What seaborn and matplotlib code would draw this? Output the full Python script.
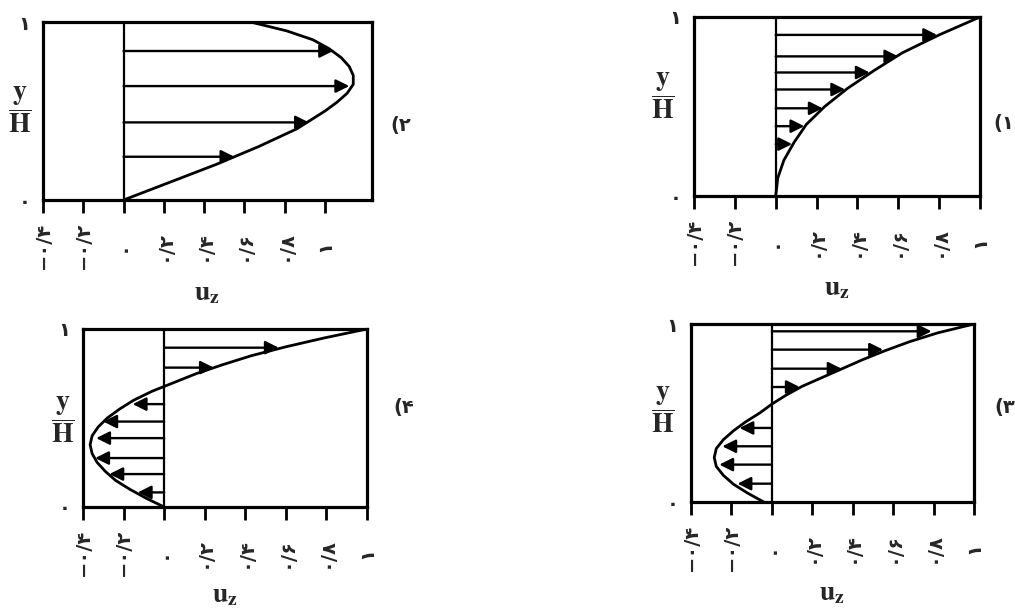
import numpy as np
import pandas as pd
import matplotlib
matplotlib.use("Agg")
import matplotlib.pyplot as plt
import seaborn as sns

sns.set_style("white")
plt.rcParams["font.family"] = ["DejaVu Sans"]
plt.rcParams["mathtext.fontset"] = "stix"

# ---------------- data ----------------
xticks = [-0.4, -0.2, 0.0, 0.2, 0.4, 0.6, 0.8, 1.0]
xtick_labels = ["−۰/۴", "−۰/۲", "۰", "۰/۲", "۰/۴", "۰/۶", "۰/۸", "۱"]
yticks = [0.0, 1.0]
ytick_labels = ["۰", "۱"]

# panel (۱)
p1_y = [0.0, 0.1, 0.2, 0.3, 0.4, 0.5, 0.6, 0.7, 0.8, 0.9, 1.0]
p1_u = [0.0, 0.01, 0.04, 0.09, 0.15, 0.24, 0.35, 0.48, 0.62, 0.80, 1.0]
p1_arrow_y = [0.29, 0.39, 0.49, 0.595, 0.69, 0.78, 0.90]
p1_arrow_u = [0.08, 0.14, 0.23, 0.34, 0.46, 0.60, 0.79]

# panel (۲)
p2_y = [0.0, 0.1, 0.2, 0.3, 0.4, 0.5, 0.55, 0.6, 0.65, 0.7, 0.75, 0.8, 0.85, 0.9, 0.95, 1.0]
p2_u = [0.0, 0.23, 0.46, 0.67, 0.86, 1.00, 1.06, 1.11, 1.14, 1.14, 1.12, 1.08, 1.02, 0.94, 0.81, 0.63]
p2_arrow_y = [0.243, 0.436, 0.64, 0.837]
p2_arrow_u = [0.55, 0.92, 1.12, 1.04]

# panel (۳)
p3_y = [0.0, 0.05, 0.1, 0.15, 0.2, 0.25, 0.3, 0.35, 0.4, 0.45, 0.5,
        0.55, 0.6, 0.65, 0.7, 0.75, 0.8, 0.85, 0.9, 0.95, 1.0]
p3_u = [-0.04, -0.12, -0.19, -0.24, -0.275, -0.285, -0.275, -0.24, -0.19, -0.13, -0.06,
        0.0, 0.07, 0.15, 0.25, 0.35, 0.45, 0.56, 0.68, 0.82, 1.0]
p3_arrow_y = [0.103, 0.21, 0.313, 0.416, 0.646, 0.749, 0.856, 0.959]
p3_arrow_u = [-0.17, -0.26, -0.245, -0.16, 0.138, 0.345, 0.55, 0.79]

# panel (۴)
p4_y = [0.0, 0.05, 0.1, 0.15, 0.2, 0.25, 0.3, 0.35, 0.4, 0.45, 0.5,
        0.55, 0.6, 0.65, 0.7, 0.75, 0.8, 0.85, 0.9, 0.95, 1.0]
p4_u = [0.0, -0.09, -0.17, -0.24, -0.29, -0.33, -0.355, -0.365, -0.355, -0.325, -0.28,
        -0.22, -0.15, -0.06, 0.05, 0.16, 0.29, 0.43, 0.60, 0.79, 1.0]
p4_arrow_y = [0.082, 0.185, 0.275, 0.387, 0.48, 0.578, 0.783, 0.895]
p4_arrow_u = [-0.13, -0.27, -0.34, -0.335, -0.30, -0.155, 0.245, 0.565]

panel_titles = ["(۱", "(۲", "(۳", "(۴"]

# ---------------- layout ----------------
W, H = 1015, 611
fig = plt.figure(figsize=(W / 100, H / 100), dpi=100)
fig.patch.set_facecolor("white")


def rect(l, t, r, b):
    return [l / W, 1 - b / H, (r - l) / W, (b - t) / H]


panels = [
    # (rect, xlim, y, u, arrow_y, arrow_u, title, title_pos, ylab_x, ylab_y, xlab_y)
    (rect(694, 17, 980, 196), (-0.4, 1.0), p1_y, p1_u, p1_arrow_y, p1_arrow_u,
     panel_titles[0], (993, 123), -0.108, 0.56, -0.51),
    (rect(43, 22, 372, 200), (-0.4, 1.233), p2_y, p2_u, p2_arrow_y, p2_arrow_u,
     panel_titles[1], (390, 125), -0.07, 0.51, -0.52),
    (rect(691, 324, 974, 502), (-0.4, 1.0), p3_y, p3_u, p3_arrow_y, p3_arrow_u,
     panel_titles[2], (994, 408), -0.099, 0.52, -0.51),
    (rect(83, 329, 367, 507), (-0.4, 1.0), p4_y, p4_u, p4_arrow_y, p4_arrow_u,
     panel_titles[3], (393, 408), -0.07, 0.49, -0.49),
]

tick_font = dict(family=["DejaVu Sans"], weight="bold", size=14)

for (rc, xlim, yy, uu, ay, au, title, tpos, ylx, yly, xly) in panels:
    ax = fig.add_axes(rc)
    df = pd.DataFrame({"u": uu, "y": yy})
    sns.lineplot(data=df, x="u", y="y", sort=False, estimator=None,
                 color="black", lw=2.0, ax=ax)
    ax.axvline(0, color="black", lw=1.6)
    for y0, u0 in zip(ay, au):
        ax.annotate("", xy=(u0, y0), xytext=(0, y0),
                    arrowprops=dict(arrowstyle="-|>", color="black", lw=1.7,
                                    mutation_scale=20, shrinkA=0, shrinkB=0))
    ax.set_xlim(*xlim)
    ax.set_ylim(0, 1)
    for sp in ax.spines.values():
        sp.set_visible(True)
        sp.set_linewidth(2.3)
        sp.set_color("black")
    ax.set_xticks(xticks)
    ax.set_xticklabels(xtick_labels, rotation=90, va="center", ha="center",
                       fontdict=tick_font)
    ax.tick_params(axis="x", bottom=True, direction="out", length=9,
                   width=2, pad=24, color="black")
    ax.set_yticks(yticks)
    ax.set_yticklabels(ytick_labels, fontdict=tick_font)
    ax.tick_params(axis="y", left=True, length=0, pad=9)
    ax.set_ylabel(r"$\dfrac{\mathbf{y}}{\mathbf{H}}$", rotation=0, fontsize=20,
                  va="center", ha="center")
    ax.yaxis.set_label_coords(ylx, yly)
    ax.set_xlabel(r"$\mathbf{u}_{\mathbf{z}}$", fontsize=20, va="center")
    ax.xaxis.set_label_coords(0.5, xly)
    ax.grid(False)
    fig.text(tpos[0] / W, 1 - tpos[1] / H, title, ha="left", va="center",
             fontsize=14, fontweight="bold", family=["DejaVu Sans"])

fig.savefig("out.png", dpi=100, facecolor="white")
